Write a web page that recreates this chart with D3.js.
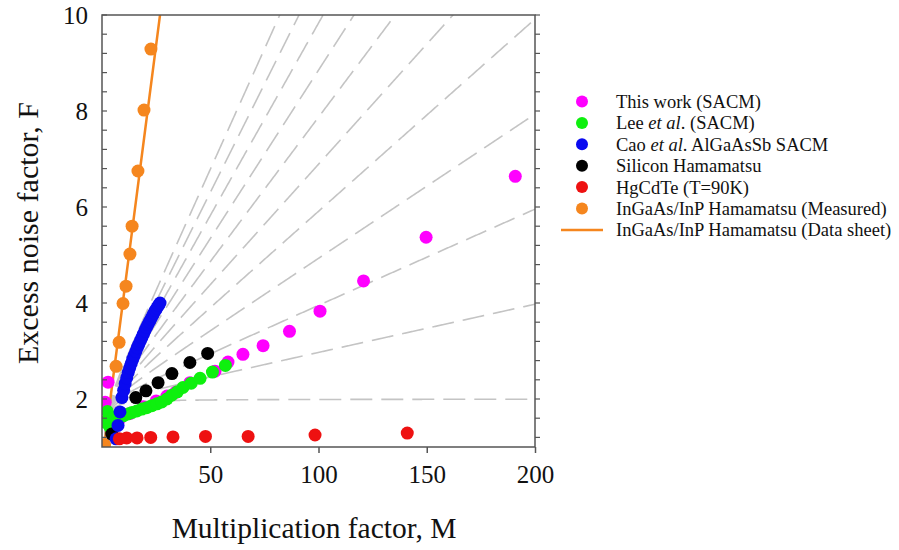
<!DOCTYPE html>
<html>
<head>
<meta charset="utf-8">
<script src="https://cdn.jsdelivr.net/npm/d3@7"></script>
<style>
body { margin: 0; background: #fff; }
text { font-family: 'Liberation Serif', 'Times New Roman', serif; fill: #111; }
</style>
</head>
<body>
<svg id="chart" width="899" height="550"></svg>
<script>
// McIntyre k lines (ionisation ratio), drawn as grey dashes
var kValues = [0, 0.01, 0.02, 0.03, 0.04, 0.05, 0.06, 0.07, 0.08, 0.09, 0.1];

// This work (SACM)
var thisWorkM = [1.5, 2.8, 8, 13, 19, 25, 30, 34, 40.6, 52.2, 58.2, 65.1, 74.4, 86.6, 100.7, 120.8, 149.7, 190.9];
var thisWorkF = [1.93, 2.35, 1.58, 1.7, 1.84, 1.96, 2.06, 2.14, 2.34, 2.58, 2.77, 2.93, 3.11, 3.41, 3.83, 4.46, 5.37, 6.64];

// Lee et al. (SACM)
var leeM = [1.2, 2.5, 3.6, 5.2, 7.5, 9.8, 12, 13.9, 16.1, 18.4, 20.6, 23, 25.4, 27.6, 30, 32.2, 34.8, 37.4, 41.2, 45.3, 51, 57];
var leeF = [1.52, 1.74, 1.42, 1.62, 1.63, 1.65, 1.69, 1.72, 1.75, 1.79, 1.82, 1.86, 1.9, 1.94, 2.0, 2.08, 2.15, 2.24, 2.33, 2.43, 2.56, 2.7];

// Cao et al. AlGaAsSb SACM
var caoM = [6.5, 7.4, 8.3, 9.2, 10.0, 10.7, 11.4, 12.1, 12.8, 13.5, 14.2, 14.9, 15.6, 16.3, 17.0, 17.7, 18.4, 19.1, 19.8, 20.5, 21.2, 21.9, 22.6, 23.3, 24.0, 24.7, 25.4, 26.1, 26.8];
var caoF = [1.17, 1.45, 1.73, 2.03, 2.18, 2.32, 2.44, 2.55, 2.65, 2.74, 2.83, 2.91, 2.99, 3.07, 3.14, 3.21, 3.28, 3.35, 3.42, 3.49, 3.55, 3.61, 3.67, 3.73, 3.79, 3.85, 3.9, 3.95, 4.0];

// Silicon Hamamatsu
var siM = [4.5, 15.6, 20.3, 25.9, 32.3, 40.6, 48.8];
var siF = [1.27, 2.03, 2.17, 2.34, 2.53, 2.76, 2.95];

// HgCdTe (T=90K)
var hgM = [8, 11.4, 16.2, 22.5, 32.8, 47.8, 67.5, 98.4, 141];
var hgF = [1.17, 1.19, 1.19, 1.2, 1.21, 1.22, 1.22, 1.25, 1.29];

// InGaAs/InP Hamamatsu measured + data sheet line
var ingaasM = [1.2, 6.5, 7.9, 9.7, 11.1, 12.9, 13.9, 16.6, 19.4, 22.6];
var ingaasF = [1.05, 2.68, 3.18, 3.99, 4.35, 5.02, 5.6, 6.75, 8.02, 9.29];
var sheetM = [1, 10, 20, 27];
var sheetF = [1, 4.14, 7.63, 10.07];

var xTicks = [50, 100, 150, 200];
var yTicks = [2, 4, 6, 8, 10];

var colors = {
	thisWork: "#ff00ff",
	lee: "#0ef00e",
	cao: "#0a0af0",
	si: "#000000",
	hg: "#ee1111",
	ingaas: "#f5861e"
};

var svg = d3.select("#chart");
var x = d3.scaleLinear().domain([0, 200]).range([102, 535]);
var y = d3.scaleLinear().domain([1, 10]).range([447, 15]);

function zipPts(ms, fs) {
	var out = [];
	for (var i = 0; i < ms.length; i++) out.push([ms[i], fs[i]]);
	return out;
}

svg.append("clipPath").attr("id", "plotclip")
	.append("rect")
	.attr("x", x(0)).attr("y", y(10))
	.attr("width", x(200) - x(0)).attr("height", y(1) - y(10));

var plot = svg.append("g").attr("clip-path", "url(#plotclip)");

// k lines
var mSamples = d3.range(1, 200.01, 0.25);
var kLine = d3.line().x(function (d) { return x(d[0]); }).y(function (d) { return y(d[1]); });
kValues.forEach(function (k) {
	var pts = mSamples.map(function (m) { return [m, k * m + (1 - k) * (2 - 1 / m)]; });
	plot.append("path")
		.attr("d", kLine(pts))
		.attr("fill", "none")
		.attr("stroke", "#c4c4c4")
		.attr("stroke-width", 1.6)
		.attr("stroke-dasharray", "22,9");
});

// data sheet line
plot.append("path")
	.attr("d", kLine(zipPts(sheetM, sheetF)))
	.attr("fill", "none")
	.attr("stroke", colors.ingaas)
	.attr("stroke-width", 2.5);

function drawDots(ms, fs, col) {
	plot.append("g").selectAll("circle")
		.data(zipPts(ms, fs))
		.enter().append("circle")
		.attr("cx", function (d) { return x(d[0]); })
		.attr("cy", function (d) { return y(d[1]); })
		.attr("r", 6.5)
		.attr("fill", col);
}

drawDots(ingaasM, ingaasF, colors.ingaas);
drawDots(thisWorkM, thisWorkF, colors.thisWork);
drawDots(leeM, leeF, colors.lee);
drawDots(siM, siF, colors.si);
drawDots(caoM, caoF, colors.cao);
drawDots(hgM, hgF, colors.hg);

// frame
var axisCol = "#555";
svg.append("rect")
	.attr("x", x(0)).attr("y", y(10))
	.attr("width", x(200) - x(0)).attr("height", y(1) - y(10))
	.attr("fill", "none").attr("stroke", axisCol).attr("stroke-width", 1.5);

// x axis
var xAxis = svg.append("g").attr("transform", "translate(0," + y(1) + ")")
	.call(d3.axisBottom(x).tickValues(xTicks).tickSize(6).tickPadding(12).tickFormat(d3.format("d")));
xAxis.select(".domain").remove();
xAxis.selectAll("line").attr("stroke", axisCol).attr("stroke-width", 1.5);
xAxis.selectAll("text").attr("font-size", "25px").attr("font-family", "'Liberation Serif', serif").attr("fill", "#111");

// y axis labels
var yAxis = svg.append("g").attr("transform", "translate(" + x(0) + ",0)")
	.call(d3.axisLeft(y).tickValues(yTicks).tickSize(0).tickPadding(14).tickFormat(d3.format("d")));
yAxis.select(".domain").remove();
yAxis.selectAll("text").attr("font-size", "25px").attr("font-family", "'Liberation Serif', serif").attr("fill", "#111");

// minor y ticks, both sides pointing right
var yMinor = d3.range(1.2, 10.01, 0.4);
[x(0), x(200)].forEach(function (px) {
	svg.append("g").selectAll("line")
		.data(yMinor)
		.enter().append("line")
		.attr("x1", px).attr("x2", px + 5)
		.attr("y1", function (d) { return y(d); })
		.attr("y2", function (d) { return y(d); })
		.attr("stroke", axisCol).attr("stroke-width", 1.2);
});

// titles
svg.append("text")
	.attr("x", 314).attr("y", 538)
	.attr("text-anchor", "middle")
	.attr("font-size", "29.5px")
	.text("Multiplication factor, M");
svg.append("text")
	.attr("transform", "translate(38,233) rotate(-90)")
	.attr("text-anchor", "middle")
	.attr("font-size", "30px")
	.text("Excess noise factor, F");

// legend
var legendItems = [
	{parts: [["This work (SACM)", false]], col: colors.thisWork, type: "dot"},
	{parts: [["Lee ", false], ["et al", true], [". (SACM)", false]], col: colors.lee, type: "dot"},
	{parts: [["Cao ", false], ["et al", true], [". AlGaAsSb SACM", false]], col: colors.cao, type: "dot"},
	{parts: [["Silicon Hamamatsu", false]], col: colors.si, type: "dot"},
	{parts: [["HgCdTe (T=90K)", false]], col: colors.hg, type: "dot"},
	{parts: [["InGaAs/InP Hamamatsu (Measured)", false]], col: colors.ingaas, type: "dot"},
	{parts: [["InGaAs/InP Hamamatsu (Data sheet)", false]], col: colors.ingaas, type: "line"}
];
var legend = svg.append("g");
legendItems.forEach(function (item, i) {
	var ly = 101.5 + i * 21.4;
	if (item.type == "dot") {
		legend.append("circle").attr("cx", 582).attr("cy", ly).attr("r", 6).attr("fill", item.col);
	} else {
		legend.append("line").attr("x1", 561).attr("x2", 603).attr("y1", ly).attr("y2", ly)
			.attr("stroke", item.col).attr("stroke-width", 2.5);
	}
	var t = legend.append("text").attr("x", 616).attr("y", ly + 6.5).attr("font-size", "18.5px");
	item.parts.forEach(function (p) {
		t.append("tspan").attr("font-style", p[1] ? "italic" : "normal").text(p[0]);
	});
});
</script>
</body>
</html>
